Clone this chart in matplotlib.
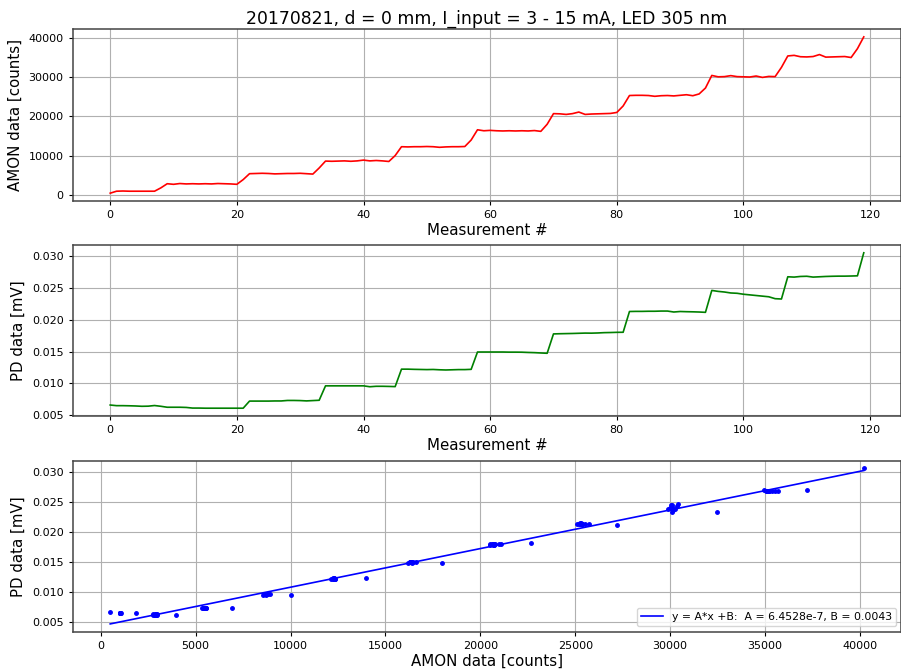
import numpy as np
import matplotlib
matplotlib.use('Agg')
import matplotlib.pyplot as plt

# AMON counts per measurement
amon = [500, 1000, 1050, 1000, 1000, 1000, 1000, 1000, 1850, 2900,
        2750, 2950, 2850, 2900, 2850, 2900, 2850, 2950, 2900, 2850,
        2750, 3950, 5450, 5500, 5550, 5500, 5400, 5450, 5500, 5500,
        5550, 5450, 5350, 6900, 8650, 8600, 8650, 8700, 8600, 8700,
        8900, 8700, 8800, 8700, 8550, 10050, 12300, 12250, 12300, 12300,
        12350, 12300, 12150, 12250, 12300, 12300, 12350, 14000, 16600, 16350,
        16450, 16350, 16300, 16350, 16300, 16350, 16300, 16400, 16200, 18000,
        20700, 20650, 20500, 20700, 21100, 20500, 20600, 20650, 20700, 20750,
        21000, 22650, 25300, 25350, 25350, 25300, 25100, 25250, 25300, 25200,
        25350, 25500, 25250, 25700, 27200, 30400, 30050, 30100, 30350, 30100,
        30050, 30000, 30250, 29900, 30150, 30100, 32450, 35350, 35500, 35150,
        35100, 35200, 35700, 35050, 35100, 35150, 35200, 34950, 37200, 40200]

# photodiode signal per measurement
pd_mv = [0.00660, 0.00650, 0.00650, 0.00648, 0.00645, 0.00640, 0.00642, 0.00652, 0.00640, 0.00625,
         0.00625, 0.00625, 0.00622, 0.00612, 0.00612, 0.00610, 0.00610, 0.00610, 0.00610, 0.00610,
         0.00610, 0.00610, 0.00722, 0.00722, 0.00722, 0.00722, 0.00724, 0.00724, 0.00732, 0.00732,
         0.00730, 0.00725, 0.00730, 0.00735, 0.00962, 0.00962, 0.00962, 0.00962, 0.00962, 0.00962,
         0.00962, 0.00948, 0.00955, 0.00955, 0.00953, 0.00950, 0.01225, 0.01225, 0.01222, 0.01220,
         0.01218, 0.01220, 0.01215, 0.01212, 0.01215, 0.01218, 0.01218, 0.01222, 0.01495, 0.01495,
         0.01495, 0.01495, 0.01495, 0.01493, 0.01493, 0.01492, 0.01488, 0.01485, 0.01480, 0.01475,
         0.01780, 0.01783, 0.01785, 0.01787, 0.01790, 0.01793, 0.01792, 0.01795, 0.01800, 0.01802,
         0.01805, 0.01806, 0.02133, 0.02135, 0.02135, 0.02137, 0.02137, 0.02140, 0.02140, 0.02125,
         0.02133, 0.02130, 0.02128, 0.02125, 0.02120, 0.02465, 0.02450, 0.02440, 0.02425, 0.02420,
         0.02405, 0.02395, 0.02385, 0.02375, 0.02365, 0.02335, 0.02330, 0.02680, 0.02675, 0.02685,
         0.02688, 0.02675, 0.02680, 0.02685, 0.02688, 0.02690, 0.02690, 0.02692, 0.02695, 0.03058]

# linear fit parameters shown in the legend
fit_a = 6.4528e-7
fit_b = 0.0043
fit_label = "y = A*x +B:  A = 6.4528e-7, B = 0.0043"

title = "20170821, d = 0 mm, I_input = 3 - 15 mA, LED 305 nm"

plt.rcParams['font.family'] = ['DejaVu Sans']
plt.rcParams['xtick.labelsize'] = 8
plt.rcParams['ytick.labelsize'] = 8
plt.rcParams['axes.edgecolor'] = '#444444'
plt.rcParams['axes.linewidth'] = 1.1
plt.rcParams['xtick.major.size'] = 3
plt.rcParams['ytick.major.size'] = 3

meas = np.arange(len(amon))

fig = plt.figure(figsize=(9.01, 6.72), dpi=100)
ax1 = fig.add_axes([0.0805, 0.7009, 0.920, 0.2559])
ax2 = fig.add_axes([0.0805, 0.3810, 0.920, 0.2544])
ax3 = fig.add_axes([0.0805, 0.0600, 0.920, 0.2544])

ax1.plot(meas, amon, color='r', lw=1.2)
ax1.set_xlabel("Measurement #", fontsize=10.8, labelpad=2)
ax1.set_ylabel("AMON data [counts]", fontsize=10.8)
ax1.set_title(title, fontsize=12.4, pad=4)

ax2.plot(meas, pd_mv, color='g', lw=1.2)
ax2.set_xlabel("Measurement #", fontsize=10.8, labelpad=2)
ax2.set_ylabel("PD data [mV]", fontsize=10.8)

xs = np.array([min(amon), max(amon)])
ax3.plot(amon, pd_mv, '.', color='b', ms=5)
ax3.plot(xs, fit_a * xs + fit_b, color='b', lw=1.2, label=fit_label)
ax3.set_xlabel("AMON data [counts]", fontsize=10.8, labelpad=2)
ax3.set_ylabel("PD data [mV]", fontsize=10.8)
ax3.legend(loc='lower right', fontsize=7.8)

for ax in (ax1, ax2, ax3):
    ax.grid(True, color='#b0b0b0', lw=0.8)

fig.savefig('out.png', dpi=100)
